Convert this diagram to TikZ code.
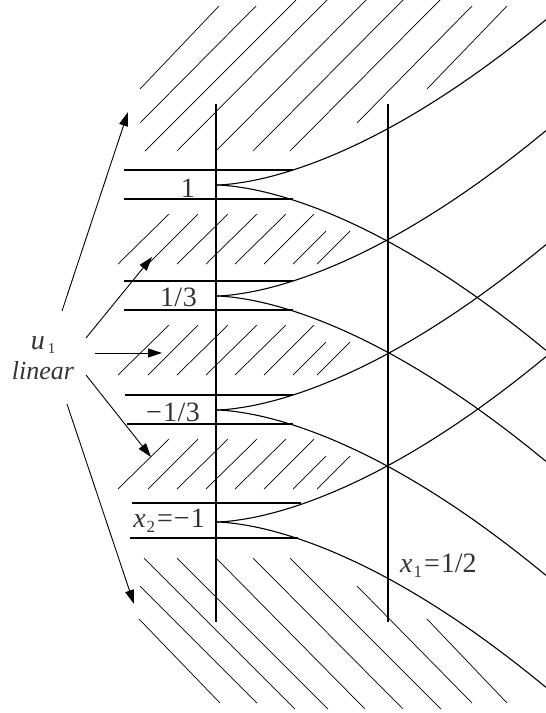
\documentclass[tikz,border=0pt]{standalone}
\usepackage{fontspec}
\setmainfont{Liberation Serif}
\usetikzlibrary{arrows.meta}
\begin{document}
\begin{tikzpicture}[x=1pt,y=-1pt,
  main/.style={line width=1.1pt},
  hatch/.style={line width=0.7pt},
  arr/.style={line width=0.9pt,-{Triangle[length=14pt,width=9pt]}},
  lbl/.style={inner sep=0pt, text=black!80, font=\fontsize{28}{30}\selectfont}]
\useasboundingbox (0,0) rectangle (546,713);

% top hatching
\foreach \xa/\ya/\xb/\yb in {140/89/219/6, 140/123/256/6, 145/151/296/0, 177/151/327/0,
  216/151/366/0, 253/151/403/0, 290/151/440/0, 357/123/472/6, 427/89/507/6}
  \draw[hatch] (\xa,\ya) -- (\xb,\yb);
% bottom hatching
\foreach \xa/\ya/\xb/\yb in {139/619/220/703, 140/586/257/703, 144/558/295/709, 177/558/328/709,
  216/558/365/709, 253/558/403/709, 290/558/441/709, 357/586/472/703, 427/619/507/703}
  \draw[hatch] (\xa,\ya) -- (\xb,\yb);
% middle hatching rows
\foreach \dy in {0,111,225} {
  \foreach \xt/\xb in {169/118,198/148,228/177,257/206,286/235,314/264}
    \draw[hatch] (\xt,214+\dy) -- (\xb,264+\dy);
  \foreach \xt/\xb in {326/293,350/317}
    \draw[hatch] (\xt,231+\dy) -- (\xb,264+\dy);
}

% vertical lines
\coordinate (l1) at (216,104); \coordinate (l2) at (216,622);
\coordinate (r1) at (388,104); \coordinate (r2) at (388,622);
\draw[main] (l1) -- (l2);
\draw[main] (r1) -- (r2);

% band lines
\foreach \xa/\xb/\y in {124/293/170, 124/293/199, 124/293/281, 124/293/310,
  125/293/395, 127/293/424, 132/301/503, 130/298/538}
  \draw[main] (\xa,\y) -- (\xb,\y);

% characteristic curves
\foreach \v/\n in {185/a,296/b,410/c,522/d} {
  \coordinate (v\n) at (216,\v);
  \draw[main] (v\n) -- plot[domain=0.5:330,samples=90] ({216+\x},{\v-57*pow(\x/173,1.65)});
  \draw[main] (v\n) -- plot[domain=0.5:330,samples=90] ({216+\x},{\v+57*pow(\x/173,1.65)});
}

% labels
\node[lbl, anchor=base east] (t1) at (195,197) {1};
\node[lbl, anchor=base east] (t2) at (197,306) {1\kern0.5pt/\kern0.5pt3};
\node[lbl, anchor=base east] (t3) at (200,421) {−\kern1pt1\kern0.5pt/\kern0.5pt3};
\node[lbl, anchor=base east] (t4) at (205,527) {\textit{x}\kern1pt\raisebox{-5pt}{\fontsize{17}{17}\selectfont 2}\kern2pt=\kern1pt−\kern1pt1};
\node[lbl, anchor=base west] (t5) at (400,572) {\textit{x}\kern1pt\raisebox{-5pt}{\fontsize{17}{17}\selectfont 1}\kern2pt=\kern1pt1/2};
\node[lbl, anchor=base] (u) at (43,349) {\textit{u}\kern3pt\raisebox{-4pt}{\fontsize{15}{15}\selectfont 1}};
\node[lbl, anchor=base, font=\fontsize{26}{30}\selectfont\itshape] (lin) at (43,379) {linear};

% arrows
\coordinate (s1) at (62,311);  \coordinate (e1) at (128,112);
\coordinate (s2) at (86,338);  \coordinate (e2) at (152,257);
\coordinate (s3) at (95,353);  \coordinate (e3) at (162,353);
\coordinate (s4) at (86,375);  \coordinate (e4) at (151,457);
\coordinate (s5) at (67,404);  \coordinate (e5) at (134,604);
\foreach \i in {1,...,5} \draw[arr] (s\i) -- (e\i);
\end{tikzpicture}
\end{document}
